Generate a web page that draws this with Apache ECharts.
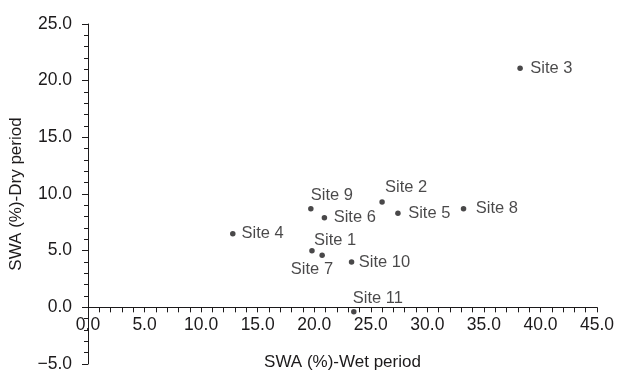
<!DOCTYPE html>
<html>
<head>
<meta charset="utf-8">
<script src="https://cdn.jsdelivr.net/npm/echarts@6/dist/echarts.min.js"></script>
<style>html,body{margin:0;padding:0;background:#fff;}#c{width:619px;height:373px;}</style>
</head>
<body>
<div id="c"></div>
<script>
const siteNames = ['Site 1','Site 2','Site 3','Site 4','Site 5','Site 6','Site 7','Site 8','Site 9','Site 10','Site 11'];
const wetValues = [20.7, 26.0, 38.2, 12.8, 27.4, 20.9, 19.8, 33.2, 19.7, 23.3, 23.5];
const dryValues = [4.6, 9.3, 21.1, 6.5, 8.3, 7.9, 5.0, 8.7, 8.7, 4.0, -0.4];
const xTicks = [0, 5, 10, 15, 20, 25, 30, 35, 40, 45];
const yTicks = [-5, 0, 5, 10, 15, 20, 25];

// label placement (style only)
const labelPlace = {
  'Site 1': {position: 'inside', offset: [13, -15]},
  'Site 2': {position: 'inside', offset: [24, -14]},
  'Site 3': {position: 'right', distance: 7.5},
  'Site 4': {position: 'right', distance: 6},
  'Site 5': {position: 'right', distance: 7.5},
  'Site 6': {position: 'right', distance: 6.5},
  'Site 7': {position: 'inside', offset: [0, 18.5]},
  'Site 8': {position: 'right', distance: 9.5},
  'Site 9': {position: 'inside', offset: [21, -13]},
  'Site 10': {position: 'right', distance: 4.5},
  'Site 11': {position: 'inside', offset: [24, -13.5]}
};

const txt = '#1c1a1b';
const font = '"Liberation Sans", Arial, sans-serif';

const chart = echarts.init(document.getElementById('c'), null, {renderer: 'canvas'});
const fmt = v => (v < 0 ? '\u2212' + Math.abs(v).toFixed(1) : v.toFixed(1));

const option = {
  animation: false,
  grid: {left: 88, right: 22, top: 24, bottom: 9, containLabel: false, outerBoundsMode: 'none'},
  xAxis: {
    type: 'value', min: xTicks[0], max: xTicks[xTicks.length - 1], interval: 5,
    position: 'bottom', offset: 0,
    name: 'SWA (%)-Wet period', nameLocation: 'middle', nameGap: 46,
    nameTextStyle: {color: txt, fontSize: 17, fontFamily: font},
    axisLine: {onZero: false, lineStyle: {color: txt, width: 1}},
    axisTick: {show: true, length: 5, lineStyle: {color: txt}},
    minorTick: {show: true, splitNumber: 5, length: 5, lineStyle: {color: txt}},
    axisLabel: {color: txt, fontSize: 17.5, fontFamily: font, margin: 9, formatter: fmt},
    splitLine: {show: false}
  },
  yAxis: {
    type: 'value', min: yTicks[0], max: yTicks[yTicks.length - 1], interval: 5,
    name: 'SWA (%)-Dry period', nameLocation: 'middle', nameGap: 63,
    nameTextStyle: {color: txt, fontSize: 17, fontFamily: font},
    axisLine: {onZero: false, lineStyle: {color: txt, width: 1}},
    axisTick: {show: true, length: 6, lineStyle: {color: txt}},
    minorTick: {show: true, splitNumber: 5, length: 4, lineStyle: {color: txt}},
    axisLabel: {color: txt, fontSize: 17.5, fontFamily: font, margin: 16, formatter: fmt},
    splitLine: {show: false}
  },
  series: [{
    type: 'scatter',
    symbol: 'circle',
    symbolSize: 5.5,
    itemStyle: {color: txt},
    label: {show: true, color: txt, fontSize: 16.5, fontFamily: font, formatter: p => p.data.name},
    data: siteNames.map((n, i) => ({
      name: n,
      value: [wetValues[i], dryValues[i]],
      label: Object.assign({}, labelPlace[n])
    }))
  }]
};
chart.setOption(option);

// Move the x axis so it crosses the y axis at zero (labels follow it)
const zeroPx = chart.convertToPixel({gridIndex: 0}, [xTicks[0], 0])[1];
const bottomPx = chart.convertToPixel({gridIndex: 0}, [xTicks[0], yTicks[0]])[1];
chart.setOption({xAxis: {offset: -(bottomPx - zeroPx)}});
</script>
</body>
</html>
